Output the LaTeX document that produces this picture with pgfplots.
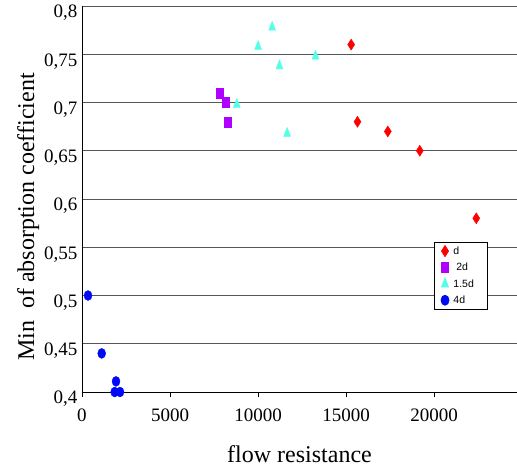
\documentclass[border=0pt]{standalone}
\usepackage{pgfplots}
\pgfplotsset{compat=1.18}
\usepackage{fontspec}
\setmainfont{Liberation Serif}
\newfontfamily\legfont{Liberation Sans}
\definecolor{cD}{RGB}{255,0,0}
\definecolor{c2D}{RGB}{176,0,255}
\definecolor{c15D}{RGB}{85,255,230}
\definecolor{c4D}{RGB}{0,10,245}
\definecolor{gridc}{RGB}{85,85,85}
\begin{document}
\begin{tikzpicture}
\useasboundingbox (-82pt,-75pt) rectangle (435pt,392pt);
\begin{axis}[
  at={(0,0)}, anchor=south west,
  scale only axis, width=435pt, height=386pt,
  xmin=0, xmax=24700, ymin=0.4, ymax=0.8,
  axis x line*=bottom, axis y line*=left,
  xtick={0,5000,10000,15000,20000},
  ytick={0.4,0.45,0.5,0.55,0.6,0.65,0.7,0.75,0.8},
  scaled x ticks=false,
  ymajorgrids, major grid style={gridc, line width=1pt},
  x tick style={black, line width=0.8pt}, y tick style={draw=none},
  xtick align=outside, major tick length=5pt,
  axis line style={black, line width=0.8pt},
  /pgf/number format/use comma, /pgf/number format/1000 sep={},
  /pgf/number format/assume math mode=true,
  tick label style={font=\fontsize{19}{22}\selectfont},
  yticklabel style={xshift=-1pt, yshift=-7pt},
  xticklabel style={yshift=-8pt},
  xlabel={flow resistance}, ylabel={Min\ \ of absorption coefficient},
  label style={font=\fontsize{24}{28}\selectfont},
  xlabel style={yshift=-17pt},
  ylabel style={yshift=-2pt, xshift=-18pt},
  legend style={at={(axis cs:20000,0.5555)}, anchor=north west,
    font=\legfont\fontsize{10.5}{12}\selectfont, draw=black, line width=0.8pt,
    inner xsep=2pt, inner ysep=3pt, row sep=4.8pt, column sep=0pt,
    nodes={text height=8pt, text depth=1.5pt, inner sep=1pt}},
  legend cell align=left,
  legend image code/.code={\draw[#1] plot coordinates {(8pt,0pt)}; \path (0pt,0pt) (15pt,0pt);},
]
\addplot[only marks, mark=diamond*, mark size=5.5pt, color=cD, mark options={xscale=0.85}] coordinates {
(15284,0.760) (15642,0.680) (17364,0.670) (19180,0.650) (22386,0.580)};
\addlegendentry{\makebox[31pt][l]{d}}
\addplot[only marks, mark=square*, mark size=3.5pt, color=c2D, mark options={yscale=1.43}] coordinates {
(7801,0.710) (8182,0.700) (8278,0.680)};
\addlegendentry{\makebox[31pt][l]{\ 2d}}
\addplot[only marks, mark=triangle*, mark size=6pt, color=c15D, mark options={xscale=0.67}] coordinates {
(8790,0.698) (10000,0.758) (10795,0.778) (11212,0.738) (13258,0.748) (11648,0.668)};
\addlegendentry{\makebox[31pt][l]{1.5d}}
\addplot[only marks, mark=*, mark size=4pt, color=c4D, mark options={yscale=1.25}] coordinates {
(341,0.500) (1119,0.440) (1932,0.411) (1856,0.400) (2159,0.400)};
\addlegendentry{\makebox[31pt][l]{4d}}
\end{axis}
\end{tikzpicture}
\end{document}
